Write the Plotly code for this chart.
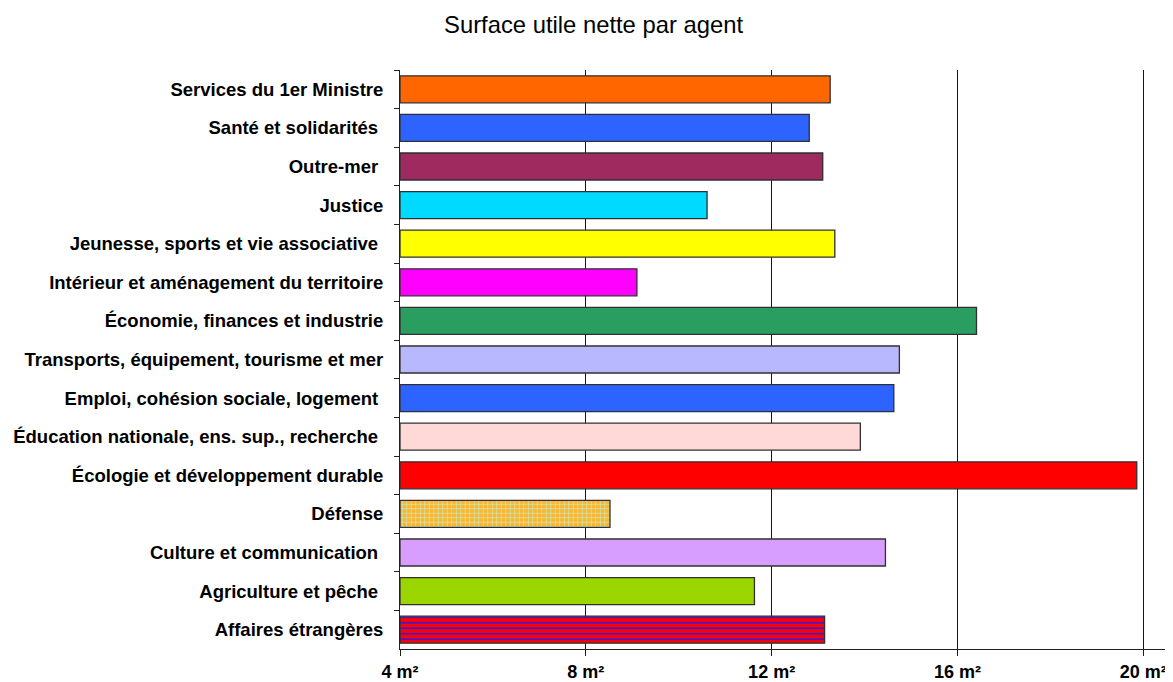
import plotly.graph_objects as go

categories = [
    "Services du 1er Ministre",
    "Santé et solidarités\u00a0",
    "Outre-mer\u00a0",
    "Justice",
    "Jeunesse, sports et vie associative\u00a0",
    "Intérieur et aménagement du territoire",
    "Économie, finances et industrie",
    "Transports, équipement, tourisme et mer",
    "Emploi, cohésion sociale, logement\u00a0",
    "Éducation nationale, ens. sup., recherche\u00a0",
    "Écologie et développement durable",
    "Défense",
    "Culture et communication\u00a0",
    "Agriculture et pêche\u00a0",
    "Affaires étrangères",
]
values = [13.26, 12.81, 13.10, 10.61, 13.36, 9.10, 16.41, 14.75, 14.63, 13.91,
          19.86, 8.52, 14.45, 11.63, 13.14]
colors = ["#FF6600", "#2D64FF", "#9E2A60", "#00DAFF", "#FFFF00", "#FF00FF", "#2A9D60",
          "#B8B8FF", "#2D64FF", "#FFD8D8", "#FF0000", "#FFB42E", "#D89EFF", "#9BD600", "#FF0000"]
pattern_shapes = ["", "", "", "", "", "", "", "", "", "", "", "+", "", "", "-"]
pattern_fg = ["", "", "", "", "", "", "", "", "", "", "", "#B8F4D8", "", "", "#3A18E0"]
pattern_size = [0, 0, 0, 0, 0, 0, 0, 0, 0, 0, 0, 4.5, 0, 0, 5.5]
pattern_solidity = [0, 0, 0, 0, 0, 0, 0, 0, 0, 0, 0, 0.25, 0, 0, 0.3]
tick_vals = [4, 8, 12, 16, 20]
tick_text = ["4 m²", "8 m²", "12 m²", "16 m²", "20 m²"]
title_text = "Surface utile nette par agent"

base = 4
outline = dict(color="#303030", width=1.3)
fig = go.Figure()

plain = [i for i, s in enumerate(pattern_shapes) if not s]
fig.add_trace(go.Bar(
    y=[categories[i] for i in plain],
    x=[values[i] - base for i in plain],
    base=base, orientation="h", width=0.7,
    marker=dict(color=[colors[i] for i in plain], line=outline),
    hoverinfo="skip",
))
for i, s in enumerate(pattern_shapes):
    if not s:
        continue
    fig.add_trace(go.Bar(
        y=[categories[i]], x=[values[i] - base],
        base=base, orientation="h", width=0.7,
        marker=dict(
            color=colors[i], line=outline,
            pattern=dict(shape=s, fgcolor=pattern_fg[i], bgcolor=colors[i],
                         size=pattern_size[i], solidity=pattern_solidity[i],
                         fillmode="replace"),
        ),
        hoverinfo="skip",
    ))

bold_font = "Liberation Sans Narrow, Arial Narrow, Liberation Sans, Arial"

fig.update_layout(
    width=1165, height=674,
    margin=dict(l=392, r=0, t=62, b=33),
    paper_bgcolor="white", plot_bgcolor="white",
    title=dict(text=title_text, x=0.5026, xanchor="center", y=0.975, yanchor="middle",
               font=dict(family="Liberation Sans, Arial", size=23.8, color="black")),
    showlegend=False,
    barmode="overlay",
)
fig.update_xaxes(
    range=[4, 20.64], tickvals=tick_vals, ticktext=tick_text,
    showgrid=True, gridcolor="#151515", gridwidth=1,
    showline=True, linecolor="#202020", linewidth=1,
    ticks="outside", ticklen=6, tickcolor="#202020",
    tickfont=dict(family=bold_font, size=18, color="black", weight="bold"),
    zeroline=False, fixedrange=True,
)
fig.update_yaxes(
    autorange="reversed", type="category",
    categoryorder="array", categoryarray=categories,
    showline=True, linecolor="#202020", linewidth=1,
    ticks="outside", ticklen=5, tickcolor="#202020", tickson="boundaries",
    tickfont=dict(family=bold_font, size=18.5, color="black", weight="bold"),
    showgrid=False, ticklabelstandoff=12,
)

fig.write_html("out.html")
